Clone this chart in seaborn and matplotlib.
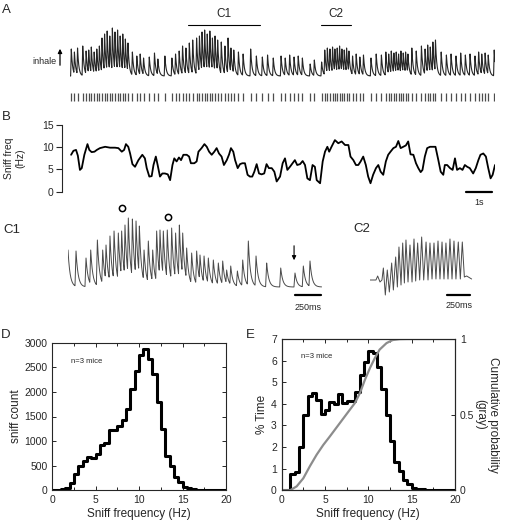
import matplotlib
matplotlib.use('Agg')
import matplotlib.pyplot as plt
import seaborn as sns
import pandas as pd
import numpy as np

# ---- data ----
# A: sniff times (s) and peak heights (a.u.) of the raw trace
a_times = [0.05, 0.17, 0.29, 0.49, 0.62, 0.72, 0.82, 0.93, 1.03, 1.13,
           1.23, 1.33, 1.43, 1.53, 1.63, 1.73, 1.83, 1.93, 2.03, 2.13,
           2.23, 2.40, 2.57, 2.70, 2.83, 3.05, 3.25, 3.38, 3.65, 3.92,
           4.06, 4.20, 4.33, 4.46, 4.59, 4.72, 4.87, 4.98, 5.08, 5.18,
           5.28, 5.38, 5.48, 5.58, 5.68, 5.82, 5.96, 6.08, 6.19, 6.30,
           6.48, 6.66, 6.95, 7.17, 7.40, 7.60, 7.82, 8.12, 8.28, 8.45,
           8.62, 8.78, 8.94, 9.24, 9.40, 9.68, 9.80, 9.90, 10.00, 10.10,
           10.19, 10.28, 10.37, 10.46, 10.55, 10.64, 10.73, 10.87, 11.01, 11.15,
           11.29, 11.58, 11.78, 11.98, 12.15, 12.26, 12.36, 12.46, 12.55, 12.64,
           12.73, 12.82, 12.91, 13.00, 13.15, 13.32, 13.52, 13.66, 13.76, 13.86,
           13.96, 14.06, 14.28, 14.48, 14.66, 14.85, 15.03, 15.21, 15.39, 15.58,
           15.72, 15.84, 15.97, 16.09, 16.32]
a_amps = [27, 24, 28, 30, 25, 26, 29, 24, 27, 30,
          38, 42, 45, 40, 48, 44, 46, 40, 42, 37,
          33, 24, 20, 22, 18, 19, 23, 17, 20, 18,
          22, 25, 30, 28, 33, 36, 38, 40, 44, 46,
          42, 45, 38, 40, 36, 34, 30, 38, 28, 26,
          24, 22, 27, 20, 19, 21, 18, 20, 18, 21,
          19, 20, 18, 12, 16, 14, 26, 28, 27, 29,
          27, 28, 30, 27, 26, 28, 25, 20, 22, 19,
          21, 18, 22, 21, 24, 22, 25, 23, 24, 22,
          25, 23, 24, 22, 28, 25, 30, 27, 31, 29,
          34, 36, 24, 21, 22, 20, 23, 21, 22, 20,
          24, 22, 23, 21, 26]

# B: instantaneous sniff frequency (Hz) vs time (s)
b_time = [0.04, 0.13, 0.23, 0.30, 0.38, 0.45, 0.55, 0.67, 0.74, 0.83, 0.94, 1.03,
          1.15, 1.35, 1.54, 1.73, 1.86, 1.99, 2.08, 2.15, 2.24, 2.31, 2.40, 2.50,
          2.63, 2.78, 2.88, 2.95, 3.05, 3.14, 3.21, 3.30, 3.37, 3.46, 3.55, 3.65,
          3.76, 3.85, 3.94, 4.01, 4.10, 4.19, 4.27, 4.36, 4.49, 4.58, 4.65, 4.78,
          4.87, 4.94, 5.06, 5.17, 5.26, 5.35, 5.45, 5.55, 5.64, 5.73, 5.83, 5.92,
          6.03, 6.12, 6.19, 6.28, 6.35, 6.45, 6.54, 6.63, 6.73, 6.83, 6.92, 7.01,
          7.09, 7.18, 7.27, 7.37, 7.47, 7.56, 7.65, 7.76, 7.86, 7.95, 8.08, 8.18,
          8.27, 8.36, 8.46, 8.56, 8.65, 8.74, 8.85, 8.95, 9.04, 9.13, 9.23, 9.33,
          9.42, 9.49, 9.62, 9.72, 9.81, 9.90, 9.97, 10.06, 10.19, 10.32, 10.45, 10.58,
          10.71, 10.79, 10.90, 11.00, 11.09, 11.18, 11.28, 11.38, 11.47, 11.56, 11.66, 11.77,
          11.86, 11.95, 12.05, 12.15, 12.24, 12.33, 12.44, 12.54, 12.63, 12.72, 12.82, 12.92,
          13.01, 13.10, 13.21, 13.31, 13.40, 13.49, 13.56, 13.65, 13.74, 13.85, 13.97, 14.06,
          14.17, 14.26, 14.36, 14.42, 14.51, 14.62, 14.72, 14.81, 14.89, 15.00, 15.10, 15.19,
          15.28, 15.38, 15.51, 15.61, 15.71, 15.79, 15.90, 16.00, 16.09, 16.18, 16.26, 16.35]
b_freq = [8.3, 9.2, 9.4, 8.1, 4.9, 5.3, 8.3, 10.7, 9.4, 8.9, 9.0, 9.4,
          9.8, 10.1, 9.9, 9.9, 9.8, 9.0, 9.4, 10.7, 10.1, 8.6, 6.2, 5.6,
          7.1, 8.3, 7.5, 5.3, 3.4, 3.5, 6.0, 7.9, 6.0, 3.4, 4.1, 4.1,
          3.9, 2.6, 6.0, 7.5, 6.8, 7.7, 7.1, 8.3, 8.3, 7.9, 6.4, 6.4,
          6.8, 9.0, 9.8, 10.7, 10.1, 9.0, 8.3, 9.0, 9.8, 8.6, 7.9, 6.0,
          7.1, 8.4, 9.8, 9.0, 7.1, 5.3, 6.2, 6.4, 6.4, 3.8, 3.4, 3.4,
          4.5, 6.2, 4.1, 3.9, 4.1, 6.2, 5.3, 5.3, 4.5, 2.3, 3.4, 6.4,
          7.5, 4.9, 5.6, 6.4, 7.1, 6.0, 6.2, 6.9, 6.0, 3.0, 2.6, 6.0,
          5.6, 2.6, 1.9, 6.8, 9.0, 10.1, 9.0, 10.1, 11.6, 10.9, 11.3, 10.5,
          10.5, 7.9, 7.1, 6.0, 6.0, 6.8, 7.9, 6.0, 3.4, 1.9, 3.8, 5.3,
          6.0, 4.5, 3.8, 6.8, 8.3, 9.0, 9.8, 10.1, 11.4, 9.8, 10.1, 10.4,
          11.3, 8.4, 8.3, 6.4, 5.3, 4.4, 4.9, 7.9, 9.8, 10.1, 10.1, 10.1,
          7.1, 4.5, 3.8, 6.0, 6.0, 5.3, 4.9, 7.5, 4.9, 5.3, 4.9, 6.0,
          5.6, 5.3, 4.1, 5.3, 7.1, 8.3, 8.6, 7.9, 5.3, 3.0, 3.8, 6.0]

# C1: expanded trace, sniff times (ms) and peak heights (a.u.)
c1_times = [0, 77, 173, 218, 282, 333, 365, 403, 442, 483,
            515, 547, 579, 618, 653, 685, 730, 771, 813, 851,
            883, 915, 953, 995, 1033, 1069, 1101, 1139, 1187, 1235,
            1267, 1306, 1347, 1395, 1443, 1485, 1523, 1562, 1626, 1677,
            1731, 1805, 1907, 2042, 2179, 2259, 2323]
c1_amps = [37, 36, 29, 37, 47, 37, 42, 51, 56, 54,
           56, 62, 69, 68, 66, 61, 37, 46, 37, 56,
           57, 56, 57, 59, 54, 62, 54, 39, 34, 36,
           32, 31, 29, 27, 24, 26, 17, 21, 16, 27,
           46, 31, 24, 19, 14, 21, 26]

# C2: expanded trace, peaks and troughs (ms, a.u.)
c2_t = [0, 64, 82, 107, 128, 143, 164, 185, 207, 232, 250, 275, 293, 310, 332,
        350, 368, 385, 407, 428, 450, 471, 489, 510, 532, 553, 575, 600, 621,
        642, 664, 685, 706, 728, 749, 771, 792, 813, 835, 856, 878, 899, 920,
        945, 967, 988, 1010, 1035, 1088]
c2_y = [0, 0, 4, -2, 0, 12, -15, 10, -12, 17, -10, 23, -7, 33, -5,
        37, -3, 40, -2, 35, -2, 41, -1, 37, 0, 43, 0, 38, 0,
        37, 1, 37, 1, 39, 1, 38, 1, 37, 1, 41, 1, 39, 1,
        38, 1, 38, 3, 4, 1]

# D / E: histograms in 0.5 Hz bins, 0-20 Hz
bin_centers = [0.25 + 0.5 * i for i in range(40)]
d_counts = [0, 5, 20, 47, 142, 325, 494, 603, 677, 650,
            745, 920, 968, 1219, 1219, 1313, 1421, 1645, 2065, 2430,
            2749, 2864, 2674, 2356, 1801, 1246, 697, 501, 278, 162,
            74, 40, 25, 15, 10, 6, 4, 3, 2, 0]
e_pct = [0, 0, 0.74, 0.86, 2.0, 3.5, 4.35, 4.5, 4.2, 3.55,
         3.7, 4.1, 4.0, 4.45, 4.05, 4.15, 4.15, 4.55, 5.35, 5.95,
         6.45, 6.35, 5.7, 4.7, 3.5, 2.3, 1.3, 0.9, 0.46, 0.3,
         0.12, 0.07, 0.04, 0.02, 0.01, 0, 0, 0, 0, 0]
# E: cumulative probability (gray curve)
cdf_freq = [0, 0.96, 1.73, 2.5, 3.26, 4.03, 4.8, 5.57, 6.34, 7.49, 8.45,
            9.03, 9.6, 10.2, 10.75, 11.3, 12.1, 12.8, 13.6, 14.5, 20]
cdf_val = [0, 0, 0.026, 0.08, 0.16, 0.235, 0.30, 0.357, 0.416, 0.504, 0.577,
           0.643, 0.73, 0.81, 0.874, 0.93, 0.973, 0.993, 0.999, 1.0, 1.0]

# ---- figure ----
sns.set_style('ticks')
plt.rcParams['font.family'] = ['Liberation Sans', 'DejaVu Sans']
W, H = 506, 520
fig = plt.figure(figsize=(W / 100, H / 100), dpi=100)


def box(x0, y0, x1, y1):
    return [x0 / W, 1 - y1 / H, (x1 - x0) / W, (y1 - y0) / H]


def sniff_trace(tt, times, amps, rise, tau):
    sig = np.zeros_like(tt)
    for t0, a in zip(times, amps):
        k = np.zeros_like(tt)
        up = (tt >= t0 - rise) & (tt <= t0)
        k[up] = a * (tt[up] - (t0 - rise)) / rise
        dn = tt > t0
        k[dn] = a * np.exp(-(tt[dn] - t0) / tau)
        sig = np.maximum(sig, k)
    return sig


def panel(x, y, s):
    fig.text(x / W, 1 - y / H, s, fontsize=9.5, ha='left', va='center')


# A: raw sniff trace and raster
axA = fig.add_axes(box(70, 20, 495, 102))
tA = np.arange(0, 16.35, 0.002)
sns.lineplot(x=tA, y=sniff_trace(tA, a_times, a_amps, 0.025, 0.05), ax=axA,
             color='#262626', lw=0.8, estimator=None, sort=False)
axA.vlines(a_times, -25, -17, color='#4d4d4d', lw=0.9)
axA.set_xlim(0, 16.35)
axA.set_ylim(-26, 56)
axA.axis('off')
for (t0, t1), lab in [((4.54, 7.31), 'C1'), ((9.65, 10.81), 'C2')]:
    axA.plot([t0, t1], [51, 51], color='k', lw=0.8, clip_on=False)
    axA.text((t0 + t1) / 2, 56, lab, ha='center', va='bottom', fontsize=8.5)
fig.text(57 / W, 1 - 62 / H, 'inhale', ha='right', va='center', fontsize=6.5)
axA.annotate('', xy=(60 / W, 1 - 46 / H), xytext=(60 / W, 1 - 68 / H),
             xycoords='figure fraction', textcoords='figure fraction',
             arrowprops=dict(arrowstyle='-|>', color='k', lw=0.9, mutation_scale=6))

# B: sniff frequency
axB = fig.add_axes(box(62, 125, 495, 191.7))
sns.lineplot(x=b_time, y=b_freq, ax=axB, color='k', lw=1.3, estimator=None, sort=False)
axB.set_xlim(-0.31, 16.35)
axB.set_ylim(0, 15)
axB.set_yticks([0, 5, 10, 15])
axB.set_xticks([])
for s in ['top', 'right', 'bottom']:
    axB.spines[s].set_visible(False)
axB.spines['left'].set_linewidth(0.8)
axB.tick_params(axis='y', labelsize=7.5, length=4, width=0.8, pad=2)
axB.set_ylabel('Sniff freq\n(Hz)', fontsize=7.5, linespacing=1.1)
axB.yaxis.set_label_coords(-0.085, 0.5)
axB.plot([15.23, 16.23], [-0.1, -0.1], color='k', lw=1.6, clip_on=False)
axB.text(15.73, -2.5, '1s', ha='center', va='center', fontsize=6.5)

# C1
axC1 = fig.add_axes(box(68, 205, 325, 300))
tC1 = np.arange(0, 2435, 1.0)
sns.lineplot(x=tC1, y=sniff_trace(tC1, c1_times, c1_amps, 10, 20), ax=axC1,
             color='#4a4a4a', lw=0.7, estimator=None, sort=False)
axC1.set_xlim(0, 2467)
axC1.set_ylim(-13, 82)
axC1.axis('off')
axC1.plot([518, 960], [79, 70], 'o', mfc='none', mec='k', ms=4.5, mew=1.1, clip_on=False)
axC1.annotate('', xy=(2170, 24), xytext=(2170, 44),
              arrowprops=dict(arrowstyle='-|>', color='k', lw=0.8, mutation_scale=6))
axC1.plot([2179, 2429], [-8, -8], color='k', lw=1.6, clip_on=False)
axC1.text(2304, -20, '250ms', ha='center', va='center', fontsize=6.5)

# C2
axC2 = fig.add_axes(box(370, 230, 475, 300))
sns.lineplot(x=c2_t, y=c2_y, ax=axC2, color='#4a4a4a', lw=0.7, estimator=None, sort=False)
axC2.set_xlim(0, 1124)
axC2.set_ylim(-20, 50)
axC2.axis('off')
axC2.plot([824, 1074], [-15, -15], color='k', lw=1.6, clip_on=False)
axC2.text(949, -25, '250ms', ha='center', va='center', fontsize=6.5)

hist_df = pd.DataFrame({'freq': bin_centers, 'count': d_counts, 'pct': e_pct})


def boxed(ax):
    for s in ax.spines.values():
        s.set_linewidth(0.8)
        s.set_visible(True)
    ax.set_xlim(0, 20)
    ax.set_xticks([0, 5, 10, 15, 20])
    ax.set_xticks(np.arange(2.5, 20, 5), minor=True)
    ax.tick_params(which='both', direction='in', top=True, labelsize=7.5, width=0.7)
    ax.tick_params(which='major', length=3)
    ax.tick_params(which='minor', length=2)
    ax.set_xlabel('Sniff frequency (Hz)', fontsize=8.5, labelpad=2)


# D
axD = fig.add_axes(box(52.3, 342.7, 226, 490.3))
sns.histplot(data=hist_df, x='freq', weights='count', bins=40, binrange=(0, 20),
             element='step', fill=False, color='k', lw=2.2, ax=axD)
boxed(axD)
axD.tick_params(which='both', right=True)
axD.set_ylim(0, 3000)
axD.set_yticks(np.arange(0, 3001, 500))
axD.set_ylabel('sniff count', fontsize=8.5, labelpad=2)
axD.text(2.2, 2620, 'n=3 mice', fontsize=5.5, va='center')

# E
axE = fig.add_axes(box(281.7, 339, 455, 490.3))
sns.histplot(data=hist_df, x='freq', weights='pct', bins=40, binrange=(0, 20),
             element='step', fill=False, color='k', lw=2.2, ax=axE)
boxed(axE)
axE.set_ylim(0, 7)
axE.set_yticks(range(8))
axE.set_ylabel('% Time', fontsize=8.5, labelpad=2)
axE.text(2.2, 6.2, 'n=3 mice', fontsize=5.5, va='center')
axE2 = axE.twinx()
sns.lineplot(x=cdf_freq, y=cdf_val, ax=axE2, color='#8c8c8c', lw=1.6)
axE2.set_ylim(0, 1)
axE2.set_yticks([0, 0.5, 1])
axE2.set_yticklabels(['0', '0.5', '1'])
axE2.tick_params(direction='in', labelsize=7.5, length=3, width=0.7)
axE2.set_ylabel('Cumulative probability\n(gray)', fontsize=8.5, rotation=270,
                labelpad=18, linespacing=1.1)

panel(2, 10, 'A')
panel(2, 117, 'B')
panel(3, 230, 'C1')
panel(353, 229, 'C2')
panel(1, 335, 'D')
panel(246, 335, 'E')

fig.savefig('out.png', dpi=100)
